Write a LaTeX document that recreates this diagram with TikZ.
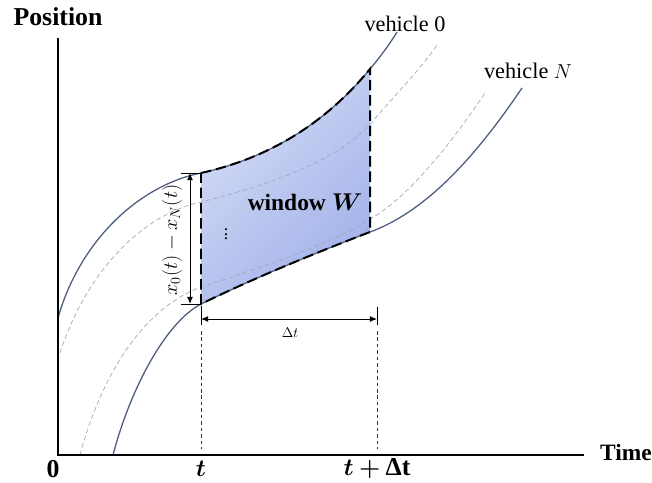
\documentclass[tikz,border=0pt]{standalone}
\usepackage{fontspec}
\setmainfont{Liberation Serif}
\usepackage{amsmath}
\usepackage{bm}
\usetikzlibrary{arrows.meta}

\definecolor{trajcolor}{HTML}{4D5E80}
\definecolor{midcolor}{HTML}{9FA9BD}
\definecolor{winlight}{HTML}{D4DCF5}
\definecolor{windark}{HTML}{A2B1EA}

\begin{document}
\begin{tikzpicture}[
        x=0.03cm, y=-0.03cm,
        axis line/.style={line width=1.3pt},
        trajectory/.style={draw=trajcolor, line width=1.1pt},
        mid trajectory/.style={draw=midcolor, line width=0.6pt, dash pattern=on 4pt off 2.5pt},
        window edge/.style={line width=1.7pt, dash pattern=on 9pt off 4pt},
        guide/.style={line width=0.8pt, black!80, dash pattern=on 3pt off 2.5pt},
        dim arrow/.style={{Latex[length=6pt,width=5pt]}-{Latex[length=6pt,width=5pt]}, line width=0.8pt},
        axis label/.style={font=\fontsize{22}{25}\selectfont\bfseries},
        vehicle label/.style={font=\fontsize{19}{22}\selectfont},
    ]

    \useasboundingbox (0,0) rectangle (652,483);

    % Corners of the window
    \coordinate (wTL) at (201,173);
    \coordinate (wTR) at (370,69);
    \coordinate (wBR) at (370,232);
    \coordinate (wBL) at (201,304);

    % Window W with shading
    \shade[top color=winlight, bottom color=windark, shading angle=45]
        (wTL) .. controls (260,160) and (320,130) .. (wTR) -- (wBR)
        .. controls (310,255) and (250,280) .. (wBL) -- cycle;

    % Vehicles in between (dashed)
    \draw[mid trajectory] (60,353) .. controls (85,275) and (140,215) .. (201,202)
        .. controls (270,185) and (340,160) .. (372,122)
        .. controls (395,95) and (420,70) .. (437,45);
    \draw[mid trajectory] (80,455) .. controls (100,380) and (140,310) .. (201,287)
        .. controls (270,265) and (340,240) .. (372,218)
        .. controls (410,195) and (450,145) .. (485,93);

    % Vehicle 0 and vehicle N
    \draw[trajectory] (58,318) .. controls (80,240) and (140,185) .. (wTL)
        .. controls (260,160) and (320,130) .. (wTR)
        .. controls (381,56) and (391,42) .. (397,32);
    \draw[trajectory] (113,455) .. controls (130,390) and (165,323) .. (wBL)
        .. controls (250,280) and (310,255) .. (wBR)
        .. controls (430,210) and (480,150) .. (522,88);

    % Window border
    \draw[window edge] (wTL) .. controls (260,160) and (320,130) .. (wTR) -- (wBR)
        .. controls (310,255) and (250,280) .. (wBL) -- cycle;

    % Axes
    \coordinate (origin) at (58,455);
    \draw[axis line] (58,38) -- (origin) -- (584,455);
    \node[axis label] (position) at (58,17) {Position};
    \node[axis label, font=\fontsize{20}{23}\selectfont\bfseries, anchor=west] (time) at (596,452) {Time};
    \node[axis label] (zero) at (53,469) {0};
    \node[axis label] (tlabel) at (201,469) {$\bm{t}$};
    \node[axis label] (tdtlabel) at (377,469) {$\bm{t}\bm{+}\text{\bfseries Δt}$};

    % Gap between vehicle 0 and vehicle N
    \coordinate (gapTop) at (190,173);
    \coordinate (gapBot) at (190,304);
    \draw[line width=0.6pt] (181,173) -- (wTL);
    \draw[line width=0.6pt] (181,304) -- (wBL);
    \draw[dim arrow] (gapTop) -- (gapBot);
    \node[rotate=90, font=\fontsize{17}{19}\selectfont] (gap) at (172,240) {$x_0(t)-x_N(t)$};

    % Time span of the window
    \coordinate (spanL) at (201,319);
    \coordinate (spanR) at (377,319);
    \draw[line width=0.8pt] (201,306) -- (201,325);
    \draw[line width=0.8pt] (377,307) -- (377,325);
    \draw[dim arrow] (spanL) -- (spanR);
    \node[font=\fontsize{13}{15}\selectfont] (span) at (290,333) {$\Delta t$};
    \draw[guide] (201,331) -- (201,449);
    \draw[guide] (377,331) -- (377,449);

    % Labels in the picture
    \node[font=\fontsize{20}{23}\selectfont\bfseries] (window) at (305,202) {window $\bm{W}$};
    \node[font=\fontsize{15}{17}\selectfont] (dots) at (226,231) {$\vdots$};
    \node[vehicle label] (veh0) at (405,24) {vehicle 0};
    \node[vehicle label] (vehN) at (528,71) {vehicle $N$};

\end{tikzpicture}
\end{document}
